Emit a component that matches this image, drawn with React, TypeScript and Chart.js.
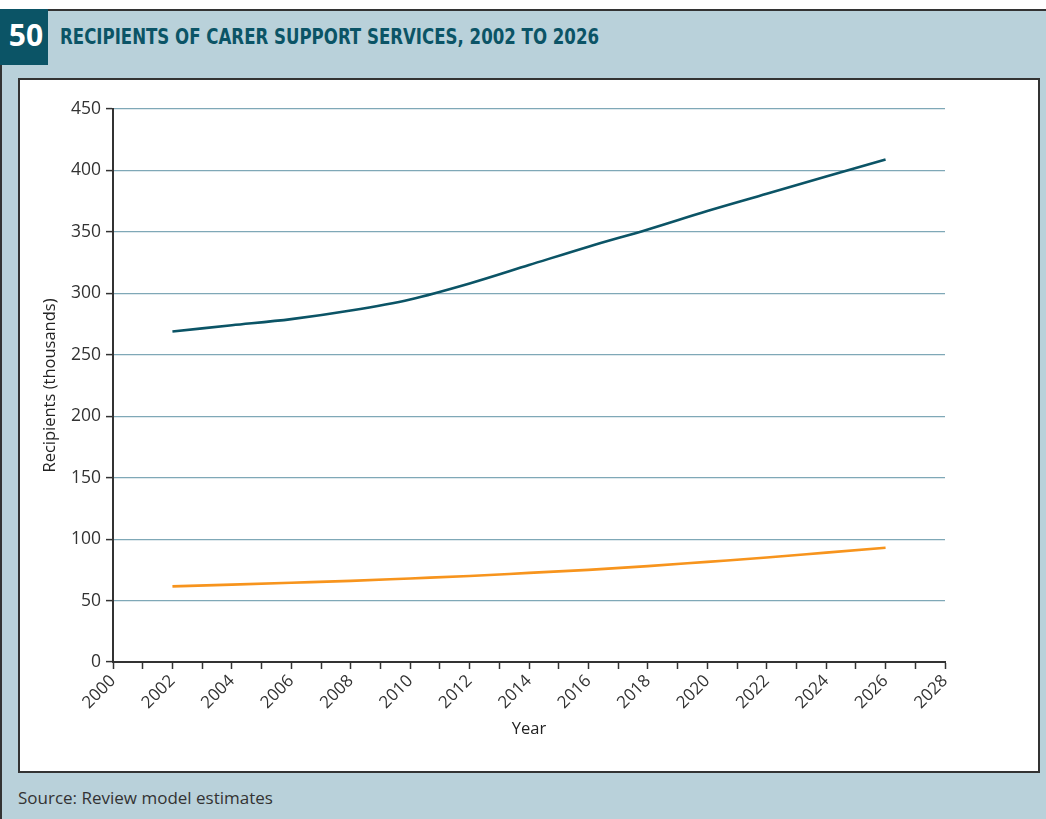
import React, { useEffect, useRef } from "react";
import { Chart, registerables } from "chart.js";

Chart.register(...registerables);

const years = [2002, 2004, 2006, 2008, 2010, 2012, 2014, 2016, 2018, 2020, 2022, 2024, 2026];
const carerSupportRecipients = [269, 274, 279, 286, 295, 308, 323, 338, 352, 367, 381, 395, 409];
const otherRecipients = [61.5, 63, 64.5, 66, 68, 70, 72.5, 75, 78, 81.5, 85, 89, 93];
const xMin = 2000;
const xMax = 2028;
const yMax = 450;
const yStep = 50;

const TITLE = "RECIPIENTS OF CARER SUPPORT SERVICES, 2002 TO 2026";
const FIG_NO = "50";
const SOURCE = "Source: Review model estimates";
const Y_TITLE = "Recipients (thousands)";
const X_TITLE = "Year";

const FONT = '"Open Sans", "Noto Sans", sans-serif';

export default function App() {
  const ref = useRef<HTMLCanvasElement | null>(null);

  useEffect(() => {
    if (!ref.current) return;
    const chart = new Chart(ref.current, {
      type: "line",
      data: {
        datasets: [
          {
            label: "Dark",
            data: years.map((y, i) => ({ x: y, y: carerSupportRecipients[i] })),
            borderColor: "#0b5466",
            borderWidth: 2.6,
            pointRadius: 0,
            cubicInterpolationMode: "monotone",
            fill: false,
          },
          {
            label: "Orange",
            data: years.map((y, i) => ({ x: y, y: otherRecipients[i] })),
            borderColor: "#f7941d",
            borderWidth: 2.6,
            pointRadius: 0,
            cubicInterpolationMode: "monotone",
            fill: false,
          },
        ],
      },
      options: {
        animation: false,
        responsive: true,
        maintainAspectRatio: false,
        layout: { padding: { top: 29, right: 93, left: 0, bottom: 0 } },
        plugins: { legend: { display: false }, tooltip: { enabled: false } },
        scales: {
          x: {
            type: "linear",
            min: xMin,
            max: xMax,
            afterFit: (s: any) => {
              s.height = 109;
            },
            ticks: {
              stepSize: 1,
              autoSkip: false,
              maxRotation: 45,
              minRotation: 45,
              padding: 2,
              color: "#333",
              font: { family: FONT, size: 17 },
              callback: (v: any) => (Number(v) % 2 === 0 ? String(v) : ""),
            },
            grid: {
              drawOnChartArea: false,
              drawTicks: true,
              tickLength: 7,
              tickColor: "#333",
              tickWidth: 1.5,
            },
            border: { display: true, color: "#333", width: 2 },
            title: {
              display: true,
              text: X_TITLE,
              color: "#222",
              font: { family: FONT, size: 16.5 },
              padding: { top: 0, bottom: 32 },
            },
          },
          y: {
            min: 0,
            max: yMax,
            afterFit: (s: any) => {
              s.width = 93;
            },
            ticks: {
              stepSize: yStep,
              padding: 5,
              color: "#333",
              font: { family: FONT, size: 17.5 },
            },
            grid: {
              color: "#7fa8b7",
              lineWidth: 1.2,
              drawTicks: true,
              tickLength: 7,
              tickColor: "#333",
              tickWidth: 1.5,
            },
            border: { display: true, color: "#333", width: 2 },
            title: {
              display: true,
              text: Y_TITLE,
              color: "#222",
              font: { family: FONT, size: 16.5 },
              padding: { top: 20, bottom: 0 },
            },
          },
        },
      },
    });
    return () => chart.destroy();
  }, []);

  return (
    <div
      style={{
        position: "absolute",
        left: 0,
        top: 0,
        width: 1046,
        height: 819,
        background: "#fff",
        overflow: "hidden",
      }}
    >
      <div
        style={{
          position: "absolute",
          left: 0,
          top: 9,
          width: 1046,
          height: 810,
          background: "#b9d1da",
          borderTop: "2px solid #333",
          borderLeft: "2px solid #333",
          boxSizing: "border-box",
        }}
      />
      <div
        style={{
          position: "absolute",
          left: 0,
          top: 9,
          width: 48,
          height: 56,
          background: "#0b5466",
          color: "#fff",
          fontFamily: FONT,
          fontWeight: 700,
          fontSize: 30,
          lineHeight: "52px",
          textAlign: "center",
          paddingLeft: 4,
          boxSizing: "border-box",
        }}
      >
        {FIG_NO}
      </div>
      <div
        style={{
          position: "absolute",
          left: 60,
          top: 23,
          color: "#0b5466",
          fontFamily: '"Liberation Sans Narrow", "DejaVu Sans Condensed", sans-serif',
          fontWeight: 700,
          fontSize: 20.5,
          lineHeight: "28px",
          whiteSpace: "nowrap",
          transform: "scaleX(0.9)",
          transformOrigin: "left center",
        }}
      >
        {TITLE}
      </div>
      <div
        style={{
          position: "absolute",
          left: 18,
          top: 78,
          width: 1022,
          height: 695,
          background: "#fff",
          border: "2px solid #333",
          boxSizing: "border-box",
        }}
      />
      <div style={{ position: "absolute", left: 20, top: 80, width: 1018, height: 691 }}>
        <canvas ref={ref} />
      </div>
      <div
        style={{
          position: "absolute",
          left: 18,
          top: 786,
          color: "#333",
          fontFamily: FONT,
          fontSize: 17,
          lineHeight: "24px",
          whiteSpace: "nowrap",
        }}
      >
        {SOURCE}
      </div>
    </div>
  );
}
